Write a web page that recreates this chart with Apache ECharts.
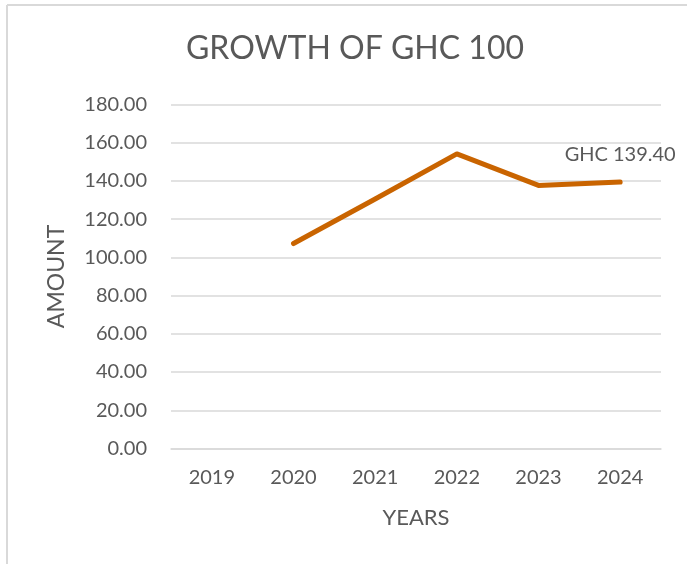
<!DOCTYPE html>
<html>
<head>
<meta charset="utf-8">
<script src="https://cdn.jsdelivr.net/npm/echarts@6/dist/echarts.min.js"></script>
<style>
  html, body { margin: 0; padding: 0; background: #fff; }
  #chart { width: 687px; height: 564px; }
</style>
</head>
<body>
<div id="chart"></div>
<script>
const titleText = "GROWTH OF GHC 100";
const years = ["2019", "2020", "2021", "2022", "2023", "2024"];
const amounts = [null, 107.2, 130.5, 154.1, 137.6, 139.4];
const yTicks = { min: 0, max: 180, interval: 20 };
const labelledIndex = 5;

const textColor = "#595959";
const lineColor = "#C96400";
const gridColor = "#D9D9D9";
const fontFamily = "Lato, 'Open Sans', sans-serif";

const seriesData = amounts.map((v, i) => {
  if (i === labelledIndex) {
    return {
      value: v,
      label: {
        show: true,
        position: "top",
        distance: 16,
        offset: [-13, 0],
        formatter: p => "GHC " + Number(p.value).toFixed(2),
        color: textColor,
        fontFamily: fontFamily,
        fontSize: 20
      }
    };
  }
  return v;
});

const chart = echarts.init(document.getElementById("chart"), null, { renderer: "canvas" });
chart.setOption({
  animation: false,
  backgroundColor: "#ffffff",
  title: {
    text: titleText,
    left: 350,
    textAlign: "center",
    top: 28,
    textStyle: { color: textColor, fontFamily: fontFamily, fontSize: 32, fontWeight: "normal" }
  },
  graphic: [
    { type: "line", shape: { x1: 7, y1: 5, x2: 687, y2: 5 }, style: { stroke: gridColor, lineWidth: 2 } },
    { type: "line", shape: { x1: 7, y1: 5, x2: 7, y2: 564 }, style: { stroke: gridColor, lineWidth: 2 } }
  ],
  grid: { left: 171, right: 26, top: 104.4, bottom: 115.5, containLabel: false },
  xAxis: {
    type: "category",
    data: years,
    boundaryGap: true,
    name: "YEARS",
    nameLocation: "middle",
    nameGap: 58,
    nameTextStyle: { color: textColor, fontFamily: fontFamily, fontSize: 22 },
    axisLine: { show: true, lineStyle: { color: gridColor, width: 1.5 } },
    axisTick: { show: false },
    axisLabel: { color: textColor, fontFamily: fontFamily, fontSize: 20, margin: 19 }
  },
  yAxis: {
    type: "value",
    min: yTicks.min,
    max: yTicks.max,
    interval: yTicks.interval,
    name: "AMOUNT",
    nameLocation: "middle",
    nameGap: 103,
    nameTextStyle: { color: textColor, fontFamily: fontFamily, fontSize: 23 },
    axisLine: { show: false },
    axisTick: { show: false },
    splitLine: { show: true, lineStyle: { color: gridColor, width: 1.5 } },
    axisLabel: {
      color: textColor, fontFamily: fontFamily, fontSize: 20, margin: 24,
      formatter: v => v.toFixed(2)
    }
  },
  series: [{
    type: "line",
    data: seriesData,
    showSymbol: true,
    symbol: "circle",
    symbolSize: 3,
    connectNulls: false,
    label: { show: false },
    labelLayout: { hideOverlap: false },
    lineStyle: { color: lineColor, width: 5, cap: "round", join: "round" },
    itemStyle: { color: lineColor },
    emphasis: { disabled: true }
  }]
});
</script>
</body>
</html>
